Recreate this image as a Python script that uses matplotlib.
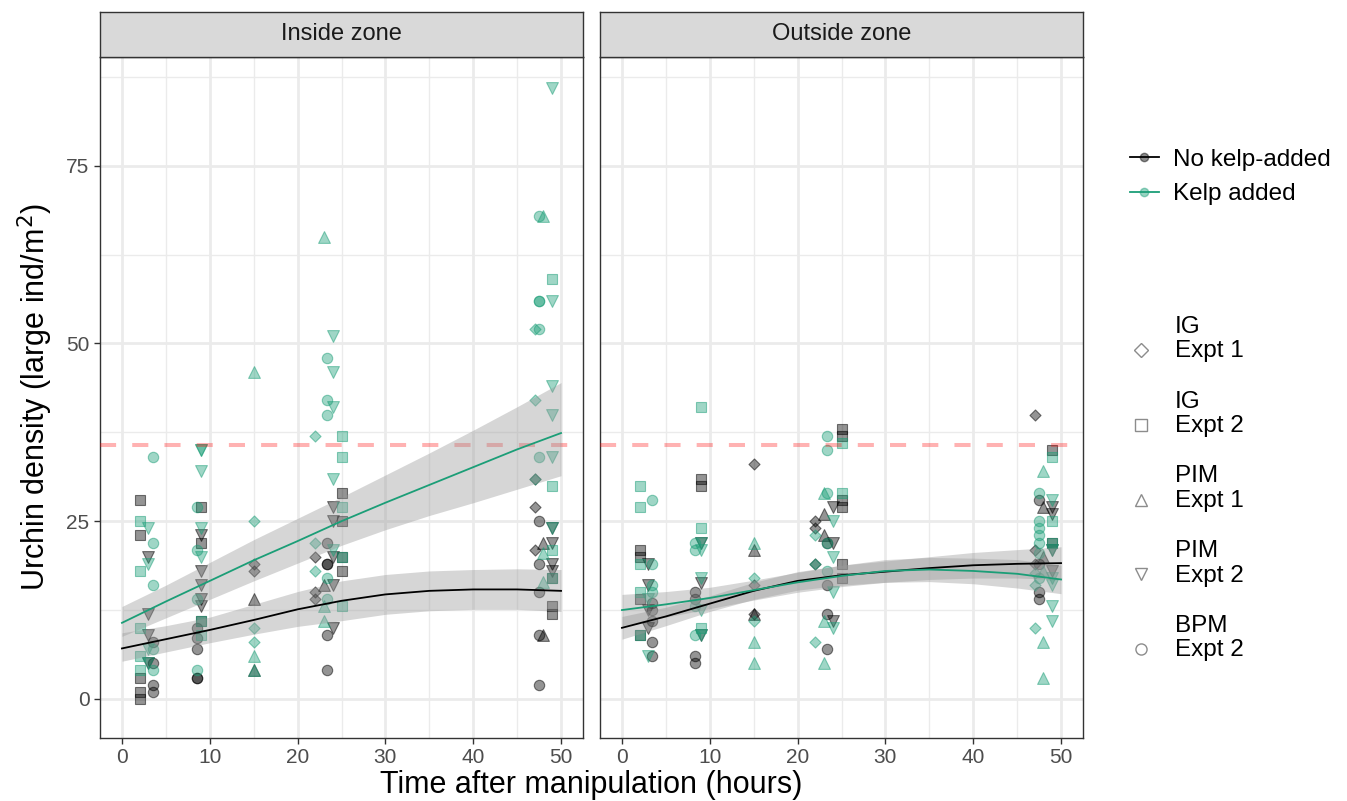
import numpy as np
import matplotlib.pyplot as plt
from matplotlib.lines import Line2D

plt.rcParams['font.family'] = ['Liberation Sans', 'DejaVu Sans']

GREEN = '#1B9E77'

# shape groups (site / experiment)
shape_codes = ['IG1', 'IG2', 'PIM1', 'PIM2', 'BPM2']
shape_labels = ['IG\nExpt 1', 'IG\nExpt 2', 'PIM\nExpt 1', 'PIM\nExpt 2', 'BPM\nExpt 2']

# (shape, hours, densities)
inside_none = [
    ('IG2', 2, [28, 23, 3, 1, 0]),
    ('PIM2', 3, [20, 12, 9, 5]),
    ('BPM2', 3.5, [8, 5, 2, 1]),
    ('BPM2', 8.5, [10, 8.5, 7, 3, 3]),
    ('IG2', 9, [27, 22, 11]),
    ('PIM2', 9, [23, 18, 16, 14, 13]),
    ('IG1', 15, [19, 18]),
    ('PIM1', 15, [14, 4]),
    ('IG1', 22, [20, 15, 14]),
    ('PIM1', 23, [16]),
    ('BPM2', 23.4, [22, 19, 19, 9, 4]),
    ('PIM2', 24, [27, 25, 20, 16, 10]),
    ('IG2', 25, [29, 25, 20, 18]),
    ('IG1', 47, [31, 27, 21]),
    ('BPM2', 47.5, [25, 19, 15, 9, 2]),
    ('PIM1', 48, [22, 9]),
    ('IG2', 49, [17, 13, 12]),
    ('PIM2', 49, [24, 22, 19, 18]),
]
inside_kelp = [
    ('IG2', 2, [25, 18, 10, 6, 4]),
    ('PIM2', 3, [24, 19, 7, 5]),
    ('BPM2', 3.5, [34, 22, 16, 7, 4]),
    ('BPM2', 8.5, [27, 21, 14, 4]),
    ('IG2', 9, [11, 9]),
    ('PIM2', 9, [35, 35, 32, 24, 20]),
    ('IG1', 15, [25, 10, 8]),
    ('PIM1', 15, [46, 6, 4]),
    ('IG1', 22, [37, 22, 18]),
    ('PIM1', 23, [65, 13, 11]),
    ('BPM2', 23.4, [48, 42, 40, 17, 14]),
    ('PIM2', 24, [51, 46, 41, 31, 21]),
    ('IG2', 25, [37, 34, 27, 20, 13]),
    ('IG1', 47, [52, 42, 31]),
    ('BPM2', 47.5, [68, 56, 56, 52, 34]),
    ('PIM1', 48, [68, 20.5, 16.5]),
    ('IG2', 49, [59, 30, 21, 17]),
    ('PIM2', 49, [86, 56, 44, 40, 34, 24]),
]
outside_none = [
    ('IG2', 2, [21, 20, 14, 9]),
    ('PIM2', 3, [19, 16, 12.5, 10]),
    ('BPM2', 3.4, [13.5, 12.5, 11, 8, 6]),
    ('BPM2', 8.3, [15, 14, 6, 5]),
    ('IG2', 9, [31, 30]),
    ('PIM2', 9, [22, 16.3, 9]),
    ('IG1', 15, [33, 16, 12]),
    ('PIM1', 15, [21, 12]),
    ('IG1', 22, [25, 24, 19]),
    ('PIM1', 23, [26, 23]),
    ('BPM2', 23.4, [22, 16, 12, 7]),
    ('PIM2', 24, [27, 22, 11]),
    ('IG2', 25, [38, 37, 28, 27, 19, 17]),
    ('IG1', 47, [40, 21, 19]),
    ('BPM2', 47.5, [28, 19, 15, 14]),
    ('PIM1', 48, [27, 20]),
    ('IG2', 49, [35, 22]),
    ('PIM2', 49, [27, 26, 21, 18]),
]
outside_kelp = [
    ('IG2', 2, [30, 27, 19, 15, 9]),
    ('PIM2', 3, [14, 6]),
    ('BPM2', 3.4, [28, 19, 16, 15]),
    ('BPM2', 8.3, [22, 21, 13, 9]),
    ('IG2', 9, [41, 24, 10]),
    ('PIM2', 9, [22, 21, 17, 12.5, 9]),
    ('IG1', 15, [17, 11]),
    ('PIM1', 15, [22, 8, 5]),
    ('IG1', 22, [23, 19, 8]),
    ('PIM1', 23, [29, 11, 5]),
    ('BPM2', 23.4, [37, 35, 29, 22, 18]),
    ('PIM2', 24, [25, 20, 15, 10]),
    ('IG2', 25, [36, 29]),
    ('IG1', 47, [17.7, 16, 10]),
    ('BPM2', 47.5, [29, 25, 24, 23, 22, 20.5, 17]),
    ('PIM1', 48, [32, 18, 8, 3]),
    ('IG2', 49, [34, 25, 22]),
    ('PIM2', 49, [28, 21, 17, 16, 13, 11]),
]

# model fits (every 5 h)
fit_x = [0, 5, 10, 15, 20, 25, 30, 35, 40, 45, 50]
in_none_fit = [7.1, 8.4, 9.7, 11.1, 12.6, 13.8, 14.7, 15.2, 15.4, 15.4, 15.2]
in_none_lo = [5.3, 6.6, 7.9, 9.1, 10.2, 11.0, 11.9, 12.4, 12.6, 12.6, 12.3]
in_none_hi = [9.3, 10.3, 11.5, 13.3, 15.1, 16.6, 17.5, 18.0, 18.2, 18.3, 18.2]
in_kelp_fit = [10.7, 13.7, 16.6, 19.5, 22.2, 25.0, 27.6, 30.1, 32.6, 35.1, 37.4]
in_kelp_lo = [8.8, 11.4, 14.0, 16.6, 19.1, 21.6, 23.8, 25.8, 27.6, 29.5, 31.4]
in_kelp_hi = [13.0, 16.0, 19.2, 22.4, 25.4, 28.4, 31.5, 34.6, 37.8, 41.1, 44.5]
out_none_fit = [10.0, 11.6, 13.4, 15.2, 16.6, 17.4, 17.9, 18.4, 18.8, 19.0, 19.1]
out_none_lo = [8.4, 10.3, 12.3, 14.0, 15.3, 16.0, 16.4, 16.8, 17.0, 17.0, 16.8]
out_none_hi = [11.6, 12.9, 14.5, 16.4, 17.9, 18.8, 19.4, 20.0, 20.6, 21.0, 21.4]
out_kelp_fit = [12.5, 13.3, 14.2, 15.3, 16.4, 17.3, 18.0, 18.2, 18.0, 17.6, 16.8]
out_kelp_lo = [10.3, 11.5, 12.7, 13.9, 15.0, 15.8, 16.4, 16.5, 16.2, 15.6, 14.8]
out_kelp_hi = [14.7, 15.1, 15.7, 16.7, 17.8, 18.8, 19.6, 19.9, 19.8, 19.6, 18.8]

threshold = 35.7

markers = {'IG1': 'D', 'IG2': 's', 'PIM1': '^', 'PIM2': 'v', 'BPM2': 'o'}
msize = {'IG1': 32, 'IG2': 48, 'PIM1': 72, 'PIM2': 72, 'BPM2': 56}

fig = plt.figure(figsize=(13.47, 8.01), dpi=100)
W, H = 1347, 801
panels = [
    ('Inside zone', 100, inside_none, inside_kelp,
     (in_none_fit, in_none_lo, in_none_hi), (in_kelp_fit, in_kelp_lo, in_kelp_hi)),
    ('Outside zone', 600, outside_none, outside_kelp,
     (out_none_fit, out_none_lo, out_none_hi), (out_kelp_fit, out_kelp_lo, out_kelp_hi)),
]

for i, (title, left, none_rows, kelp_rows, none_fit, kelp_fit) in enumerate(panels):
    ax = fig.add_axes([left / W, 1 - 738 / H, 483 / W, 681 / H])
    ax.set_xlim(-2.5, 52.5)
    ax.set_ylim(-5.5, 90.3)
    ax.set_xticks([0, 10, 20, 30, 40, 50])
    ax.set_xticks([5, 15, 25, 35, 45], minor=True)
    ax.set_yticks([0, 25, 50, 75])
    ax.set_yticks([12.5, 37.5, 62.5, 87.5], minor=True)
    ax.grid(which='major', color='#ebebeb', lw=2.0, zorder=0)
    ax.grid(which='minor', color='#ebebeb', lw=1.0, zorder=0)
    ax.set_axisbelow(True)
    for sp in ax.spines.values():
        sp.set_color('#333333')
        sp.set_linewidth(1.0)
    ax.tick_params(which='major', length=4, color='#333333', labelsize=15,
                   labelcolor='#4d4d4d', width=1)
    ax.tick_params(which='minor', length=0)
    if i == 1:
        ax.tick_params(axis='y', left=False, labelleft=False)

    for rows, col in [(none_rows, (0, 0, 0)), (kelp_rows, (27 / 255, 158 / 255, 119 / 255))]:
        for code, t, vals in rows:
            ax.scatter([t] * len(vals), vals, marker=markers[code], s=msize[code],
                       facecolor=col + (0.42,), edgecolor=col + (0.5,), linewidth=0.8,
                       zorder=2)

    ax.axhline(threshold, color='red', alpha=0.3, lw=2.9, ls=(0, (4, 4)), zorder=3)

    for (f, lo, hi), col in [(none_fit, 'black'), (kelp_fit, GREEN)]:
        ax.fill_between(fit_x, lo, hi, color='#999999', alpha=0.4, lw=0, zorder=4)
        ax.plot(fit_x, f, color=col, lw=1.3, zorder=5)

    sax = fig.add_axes([left / W, 1 - 57 / H, 483 / W, 45 / H])
    sax.set_facecolor('#d9d9d9')
    sax.set_xticks([])
    sax.set_yticks([])
    for sp in sax.spines.values():
        sp.set_color('#333333')
        sp.set_linewidth(1.0)
    sax.text(0.5, 0.5, title, ha='center', va='center', fontsize=17,
             color='#1a1a1a', transform=sax.transAxes)

fig.text(35 / W, 1 - 397 / H, 'Urchin density (large ind/m$^2$)', rotation=90,
         ha='center', va='center', fontsize=22)
fig.text(591 / W, 1 - 785 / H, 'Time after manipulation (hours)',
         ha='center', va='center', fontsize=22)

# colour legend
h1 = [Line2D([0], [0], color='black', lw=1.3, marker='o', markersize=6,
             markerfacecolor=(0, 0, 0, 0.45), markeredgecolor=(0, 0, 0, 0.45)),
      Line2D([0], [0], color=GREEN, lw=1.3, marker='o', markersize=6,
             markerfacecolor=(27 / 255, 158 / 255, 119 / 255, 0.45),
             markeredgecolor=(27 / 255, 158 / 255, 119 / 255, 0.45))]
leg1 = fig.legend(h1, ['No kelp-added', 'Kelp added'], loc='upper left',
                  bbox_to_anchor=(1120 / W, 1 - 139 / H), frameon=False,
                  fontsize=17.5, handlelength=1.2, handletextpad=0.6,
                  labelspacing=0.52, borderaxespad=0)

# shape legend (key sits on the second text line, as in ggplot)
for k, (code, lab) in enumerate(zip(shape_codes, shape_labels)):
    ykey = 350 + 74.8 * k
    fig.add_artist(Line2D([1141 / W], [1 - ykey / H], ls='none', marker=markers[code],
                          markersize=8 if code != 'IG1' else 7, markerfacecolor='none',
                          markeredgecolor='#8c8c8c', markeredgewidth=1.0,
                          transform=fig.transFigure))
    fig.text(1175 / W, 1 - (ykey - 11) / H, lab, ha='left', va='center',
             fontsize=17.5, linespacing=1.15, color='black')

fig.savefig('out.png', dpi=100)
